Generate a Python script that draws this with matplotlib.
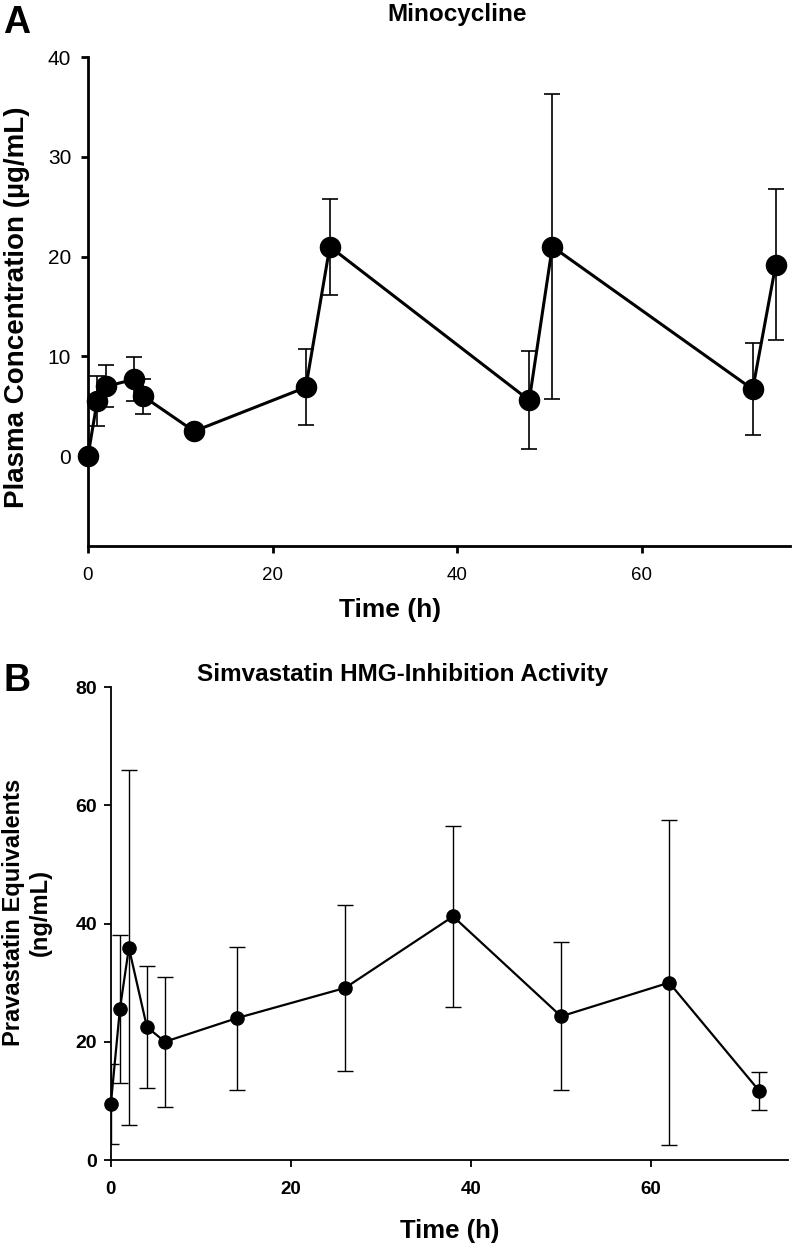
import matplotlib
matplotlib.use("Agg")
import matplotlib.pyplot as plt

plt.rcParams['font.family'] = ['Liberation Sans', 'DejaVu Sans']

# Panel A: minocycline plasma concentration
mino_time = [0, 1, 2, 5, 6, 11.5, 23.6, 26.2, 47.8, 50.3, 72, 74.5]
mino_conc = [0, 5.5, 7.0, 7.7, 6.0, 2.5, 6.9, 21.0, 5.6, 21.0, 6.7, 19.2]
mino_err = [0, 2.5, 2.1, 2.2, 1.75, 0, 3.8, 4.8, 4.9, 15.3, 4.6, 7.6]

# Panel B: simvastatin HMG-CoA inhibition activity
simva_time = [0, 1, 2, 4, 6, 14, 26, 38, 50, 62, 72]
simva_conc = [9.5, 25.5, 35.9, 22.5, 20.0, 24.0, 29.1, 41.2, 24.3, 30.0, 11.7]
simva_err = [6.8, 12.5, 30.0, 10.3, 11.0, 12.1, 14.0, 15.3, 12.5, 27.5, 3.2]

W, H = 792, 1248
fig = plt.figure(figsize=(W / 100, H / 100), dpi=100)


def fx(px):
    return px / W


def fy(py):
    return 1 - py / H


# ---- panel A
ax1 = fig.add_axes([0.111, 0.5625, 0.886, 0.3918])
ax1.errorbar(mino_time, mino_conc, yerr=mino_err, fmt='none', ecolor='black',
             elinewidth=1.2, capsize=5.5, capthick=1.2, zorder=2)
ax1.plot(mino_time, mino_conc, color='black', lw=2.2, marker='o',
         markersize=14.5, zorder=3, clip_on=False)
ax1.set_xlim(0, 76)
ax1.set_ylim(-9, 40)
ax1.set_xticks([0, 20, 40, 60])
ax1.set_yticks([0, 10, 20, 30, 40])
for s in ['top', 'right']:
    ax1.spines[s].set_visible(False)
for s in ['left', 'bottom']:
    ax1.spines[s].set_linewidth(2)
ax1.tick_params(width=2, length=5)
ax1.tick_params(axis='y', labelsize=15, pad=7)
ax1.tick_params(axis='x', labelsize=13.5, pad=10)

fig.text(fx(3), fy(5), "A", fontsize=27, fontweight='bold', va='top', ha='left')
fig.text(fx(457), fy(15), "Minocycline", fontsize=17.5, fontweight='bold',
         ha='center', va='center')
fig.text(fx(17), fy(307), "Plasma Concentration (\u00b5g/mL)", fontsize=20,
         fontweight='bold', rotation=90, ha='center', va='center')
fig.text(fx(390), fy(610), "Time (h)", fontsize=19, fontweight='bold',
         ha='center', va='center')

# ---- panel B
ax2 = fig.add_axes([0.140, 0.0705, 0.855, 0.379])
ax2.errorbar(simva_time, simva_conc, yerr=simva_err, fmt='none', ecolor='black',
             elinewidth=1.0, capsize=5.5, capthick=1.0, zorder=2)
ax2.plot(simva_time, simva_conc, color='black', lw=1.6, marker='o',
         markersize=9.5, zorder=3, clip_on=False)
ax2.set_xlim(0, 75.2)
ax2.set_ylim(0, 80)
ax2.set_xticks([0, 20, 40, 60])
ax2.set_yticks([0, 20, 40, 60, 80])
for s in ['top', 'right']:
    ax2.spines[s].set_visible(False)
for s in ['left', 'bottom']:
    ax2.spines[s].set_linewidth(1.3)
ax2.tick_params(width=1.3, length=5)
ax2.tick_params(axis='y', labelsize=14, pad=5)
ax2.tick_params(axis='x', labelsize=13.5, pad=10)
for lab in ax2.get_xticklabels() + ax2.get_yticklabels():
    lab.set_fontweight('bold')

fig.text(fx(4), fy(663), "B", fontsize=27, fontweight='bold', va='top', ha='left')
fig.text(fx(403), fy(675), "Simvastatin HMG-Inhibition Activity", fontsize=17.5,
         fontweight='bold', ha='center', va='center')
fig.text(fx(27), fy(912), "Pravastatin Equivalents\n(ng/mL)", fontsize=17,
         fontweight='bold', rotation=90, ha='center', va='center', linespacing=1.2)
fig.text(fx(450), fy(1231), "Time (h)", fontsize=18.5, fontweight='bold',
         ha='center', va='center')

fig.savefig("out.png", dpi=100)
